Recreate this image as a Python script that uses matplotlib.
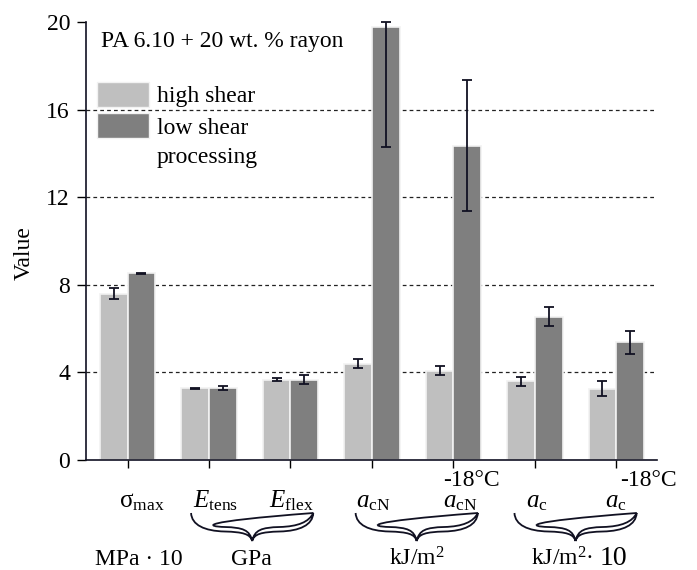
import matplotlib
matplotlib.use('Agg')
import matplotlib.pyplot as plt
import matplotlib.transforms as mtransforms
from matplotlib.patches import Rectangle, PathPatch
from matplotlib.path import Path

plt.rcParams['font.family'] = ['Liberation Serif', 'DejaVu Serif']
plt.rcParams['mathtext.fontset'] = 'custom'
plt.rcParams['mathtext.rm'] = 'Liberation Serif'
plt.rcParams['mathtext.it'] = 'Liberation Serif:italic'

# data
groups = [0, 1, 2, 3, 4, 5, 6]
high_shear = [7.6, 3.28, 3.67, 4.4, 4.08, 3.6, 3.25]
high_err = [0.24, 0.02, 0.08, 0.2, 0.2, 0.2, 0.35]
low_shear = [8.52, 3.28, 3.67, 19.75, 14.35, 6.55, 5.37]
low_err_lo = [0.03, 0.1, 0.2, 5.45, 3.0, 0.42, 0.53]
low_err_hi = [0.03, 0.1, 0.2, 0.25, 3.0, 0.42, 0.53]

param_labels = [r'$\mathrm{σ}_{\mathrm{max}}$', r'$E_{\mathrm{tens}}$', r'$E_{\mathrm{flex}}$',
                r'$a_{\mathrm{cN}}$', r'$a_{\mathrm{cN}}$', r'$a_{\mathrm{c}}$', r'$a_{\mathrm{c}}$']
param_x = [0.18, 1.08, 2.01, 3.02, 4.09, 5.03, 5.99]
cold_x = [4.22, 6.40]
unit_labels = ['MPa · 10', 'GPa', r'kJ/m$^{2}$']
unit_x = [0.14, 1.52, 3.55]
brace_x = [1.53, 3.55, 5.50]

LIGHT = '#bfbfbf'
DARK = '#7f7f7f'
INK = '#111122'
W, H = 697, 570
FS = 17

fig = plt.figure(figsize=(W / 100, H / 100), dpi=100)
ax = fig.add_axes([86 / W, 110 / H, 571 / W, 438 / H])


def fy(y):
    # pixel row (from top) -> figure fraction
    return 1 - y / H


bw = 0.34
xl = [g - bw / 2 for g in groups]
xr = [g + bw / 2 for g in groups]
ax.bar(xl, high_shear, width=bw, color=LIGHT, edgecolor='#f2f2f2', linewidth=1.2, zorder=2)
ax.bar(xr, low_shear, width=bw, color=DARK, edgecolor='#f2f2f2', linewidth=1.2, zorder=2)
ax.errorbar(xl, high_shear, yerr=high_err, fmt='none', ecolor=INK,
            elinewidth=1.3, capsize=3.3, capthick=1.3, zorder=3, clip_on=False)
ax.errorbar(xr, low_shear, yerr=[low_err_lo, low_err_hi], fmt='none', ecolor=INK,
            elinewidth=1.3, capsize=3.3, capthick=1.3, zorder=3, clip_on=False)

for gy in [4, 8, 12, 16]:
    ax.axhline(gy, color='#222222', linestyle=(0, (3, 2.5)), linewidth=0.9, zorder=1)

ax.set_xlim(-0.51, 6.5)
ax.set_ylim(0, 20)
ax.set_yticks([0, 4, 8, 12, 16, 20])
ax.set_xticks(groups)
ax.set_xticklabels([])
ax.tick_params(axis='y', direction='out', length=6.5, width=1, pad=5, labelsize=FS)
ax.tick_params(axis='x', direction='out', length=5.8, width=1)
for s in ['top', 'right']:
    ax.spines[s].set_visible(False)
for s in ['left', 'bottom']:
    ax.spines[s].set_linewidth(1.2)
    ax.spines[s].set_color(INK)
ax.set_ylabel('Value', fontsize=FS, va='center')
ax.yaxis.set_label_coords(-0.108, 0.473)

# title and legend
fig.text(101 / W, fy(47), 'PA 6.10 + 20 wt. % rayon', fontsize=FS, va='baseline')
fig.add_artist(Rectangle((97 / W, fy(107)), 52 / W, 25 / H, transform=fig.transFigure,
                         facecolor=LIGHT, edgecolor='#f2f2f2', linewidth=1))
fig.add_artist(Rectangle((97 / W, fy(138)), 52 / W, 25 / H, transform=fig.transFigure,
                         facecolor=DARK, edgecolor='#f2f2f2', linewidth=1))
fig.text(157 / W, fy(102), 'high shear', fontsize=FS, va='baseline')
fig.text(157 / W, fy(134), 'low shear', fontsize=FS, va='baseline')
fig.text(157 / W, fy(163), 'processing', fontsize=FS, va='baseline')

# labels under the axis
trans = mtransforms.blended_transform_factory(ax.transData, fig.transFigure)
for x, lab in zip(param_x, param_labels):
    ax.text(x, fy(507), lab, transform=trans, fontsize=18, ha='center', va='baseline',
            clip_on=False)
for x in cold_x:
    ax.text(x, fy(486), '-18°C', transform=trans, fontsize=FS, ha='center', va='baseline',
            clip_on=False)
for x, lab in zip(unit_x, unit_labels):
    ax.text(x, fy(565), lab, transform=trans, fontsize=FS, ha='center', va='baseline',
            clip_on=False)
ax.text(5.51 - 0.18, fy(565), r'kJ/m$^{2}$·', transform=trans, fontsize=FS, ha='center',
        va='baseline', clip_on=False)
ax.text(5.51 + 0.45, fy(565), '10', transform=trans, fontsize=20, ha='center',
        va='baseline', clip_on=False)


def brace(xc, hw=0.75, top=513):
    # hollow curly brace opening upward, tip pointing down
    def pt(u, dy):
        return (xc + u * hw, fy(top + dy))
    outer_r = [pt(1, 0), pt(0.99, 12), pt(0.78, 18), pt(0.45, 18.5),
               pt(0.15, 19), pt(0.03, 21), pt(0, 28)]
    inner_r = [pt(1, 0), pt(0.93, 9), pt(0.75, 13.5), pt(0.45, 14),
               pt(0.15, 14.5), pt(0.04, 17), pt(0, 28)]
    outer_l = [(2 * xc - x, y) for x, y in outer_r]
    inner_l = [(2 * xc - x, y) for x, y in inner_r]
    verts = outer_r + inner_r[::-1][1:] + inner_l[1:] + outer_l[::-1][1:]
    codes = [Path.MOVETO] + [Path.CURVE4] * (len(verts) - 1)
    ax.add_patch(PathPatch(Path(verts, codes), transform=trans, facecolor='white',
                           edgecolor=INK, linewidth=1.3, clip_on=False))


for bx in brace_x:
    brace(bx)

fig.savefig('out.png', dpi=100)
